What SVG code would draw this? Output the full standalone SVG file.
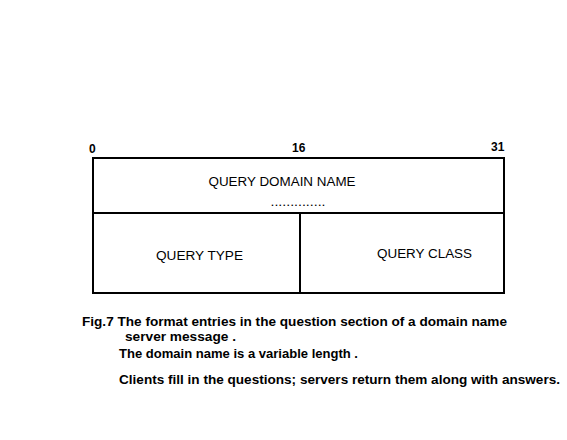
<svg xmlns="http://www.w3.org/2000/svg" width="567" height="440" viewBox="0 0 567 440">
<style>
.box{fill:none;stroke:#000;stroke-width:2}
.lbl{font-family:"Liberation Sans",Arial,sans-serif;font-size:12.5px;fill:#000}
.b{font-family:"Liberation Sans",Arial,sans-serif;font-size:13px;font-weight:bold;fill:#000}
.s{font-family:"Liberation Sans",Arial,sans-serif;font-size:12px;font-weight:bold;fill:#000}
</style>
<rect width="567" height="440" fill="#fff"/>
<g id="scale">
<text class="s" x="89" y="153">0</text>
<text class="s" x="292" y="152">16</text>
<text class="s" x="491" y="151">31</text>
</g>
<g id="domain-name">
<rect class="box" x="93" y="158" width="411" height="55"/>
<text class="lbl" x="282" y="186" text-anchor="middle" textLength="147" lengthAdjust="spacingAndGlyphs">QUERY DOMAIN NAME</text>
<text class="lbl" x="298" y="206" text-anchor="middle" textLength="55" lengthAdjust="spacingAndGlyphs">..............</text>
</g>
<g id="query-type">
<rect class="box" x="93" y="213" width="207" height="80"/>
<text class="lbl" x="156" y="260" textLength="87" lengthAdjust="spacingAndGlyphs">QUERY TYPE</text>
</g>
<g id="query-class">
<rect class="box" x="300" y="213" width="204" height="80"/>
<text class="lbl" x="377" y="258" textLength="95" lengthAdjust="spacingAndGlyphs">QUERY CLASS</text>
</g>
<g id="caption">
<text class="b" x="82" y="326" textLength="425" lengthAdjust="spacingAndGlyphs">Fig.7 The format entries in the question section of a domain name</text>
<text class="b" x="125" y="341" textLength="111" lengthAdjust="spacingAndGlyphs">server message .</text>
<text class="b" x="119" y="358" textLength="239" lengthAdjust="spacingAndGlyphs">The domain name is a variable length .</text>
<text class="b" x="119" y="384" textLength="441" lengthAdjust="spacingAndGlyphs">Clients fill in the questions; servers return them along with answers.</text>
</g>
</svg>
